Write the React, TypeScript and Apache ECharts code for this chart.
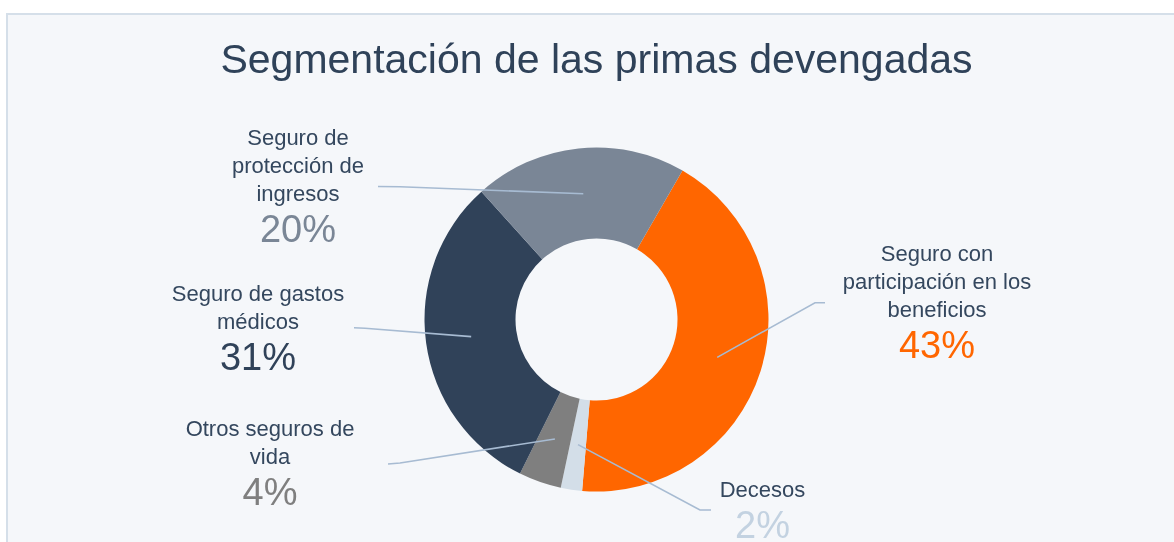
import React, { useEffect, useRef } from "react";
import * as echarts from "echarts";

const titleText = "Segmentación de las primas devengadas";
const categories = [
  "Seguro con\nparticipación en los\nbeneficios",
  "Decesos",
  "Otros seguros de\nvida",
  "Seguro de gastos\nmédicos",
  "Seguro de\nprotección de\ningresos",
];
const values = [43, 2, 4, 31, 20];
const sliceColors = ["#ff6600", "#d3dee8", "#7f7f7f", "#304259", "#7a8696"];
const pctColors = ["#ff6600", "#c3d2e1", "#7f7f7f", "#304259", "#7a8696"];

// layout (pixels): label anchor (center x, top y) and leader line end/kink points
const CX = 596.5;
const CY = 319.5;
const R0 = 81;
const R1 = 172;
const START_ANGLE = 60;
const labelAnchors = [
  [937, 239.5],
  [762.5, 475],
  [270, 414.5],
  [258, 279],
  [298, 123.5],
];
const lineKinks = [
  [815, 302.7],
  [700, 510],
  [400, 463],
  [365, 328.2],
  [400, 186.8],
];
const lineEnds = [
  [825, 302.7],
  [711, 510],
  [388, 464],
  [354, 327.7],
  [378, 186.5],
];

export default function App() {
  const ref = useRef<HTMLDivElement>(null);
  useEffect(() => {
    if (!ref.current) return;
    const chart = echarts.init(ref.current, null, { renderer: "svg" });
    const total = values.reduce((a, b) => a + b, 0);
    const cum: number[] = [];
    let acc = 0;
    values.forEach((v) => {
      cum.push(acc);
      acc += v;
    });
    const rich: any = {
      n: {
        fontFamily: "Liberation Sans, Arial, sans-serif",
        fontSize: 22,
        lineHeight: 28,
        color: "#34475e",
      },
    };
    pctColors.forEach((c, i) => {
      rich["p" + i] = {
        fontFamily: "Liberation Sans, Arial, sans-serif",
        fontSize: 38,
        lineHeight: 43,
        color: c,
      };
    });
    const base = {
      type: "pie",
      center: [CX, CY],
      radius: [R0, R1],
      startAngle: START_ANGLE,
      clockwise: true,
      avoidLabelOverlap: false,
      emphasis: { disabled: true },
    };
    chart.setOption({
      animation: false,
      graphic: {
        elements: [
          {
            type: "rect",
            z: -10,
            silent: true,
            shape: { x: 7, y: 14, width: 1200, height: 600 },
            style: { fill: "#f5f7fa", stroke: "#d5dfe9", lineWidth: 2 },
          },
          {
            type: "text",
            z: 10,
            x: CX,
            y: 59,
            style: {
              text: titleText,
              fontFamily: "Liberation Sans, Arial, sans-serif",
              fontSize: 41,
              fill: "#2f4259",
              align: "center",
              verticalAlign: "middle",
            },
          },
        ],
      },
      series: [
        {
          ...base,
          z: 2,
          data: categories.map((name, i) => ({
            name,
            value: values[i],
            itemStyle: { color: sliceColors[i] },
          })),
          label: { show: false },
          labelLine: { show: false },
        },
        {
          ...base,
          z: 5,
          silent: true,
          data: categories.map((name, i) => ({
            name,
            value: values[i],
            itemStyle: { color: "rgba(0,0,0,0)" },
          })),
          label: {
            show: true,
            position: "outside",
            formatter: (p: any) => {
              const lines = String(p.name)
                .split("\n")
                .map((l: string) => `{n|${l}}`)
                .join("\n");
              return `${lines}\n{p${p.dataIndex}|${p.value}%}`;
            },
            rich,
          },
          labelLine: {
            show: true,
            lineStyle: { color: "#a7bbd2", width: 1.6 },
          },
          labelLayout: (params: any) => {
            const i = params.dataIndex;
            const mid = ((cum[i] + values[i] / 2) / total) * 360 + (90 - START_ANGLE);
            const rad = (mid * Math.PI) / 180;
            const rm = (R0 + R1) / 2;
            const sx = CX + rm * Math.sin(rad);
            const sy = CY - rm * Math.cos(rad);
            return {
              x: labelAnchors[i][0],
              y: labelAnchors[i][1],
              align: "center",
              verticalAlign: "top",
              labelLinePoints: [[sx, sy], lineKinks[i], lineEnds[i]],
            };
          },
        },
      ],
    });
    return () => chart.dispose();
  }, []);
  return (
    <div
      ref={ref}
      style={{ position: "fixed", left: 0, top: 0, width: 1174, height: 542 }}
    />
  );
}
